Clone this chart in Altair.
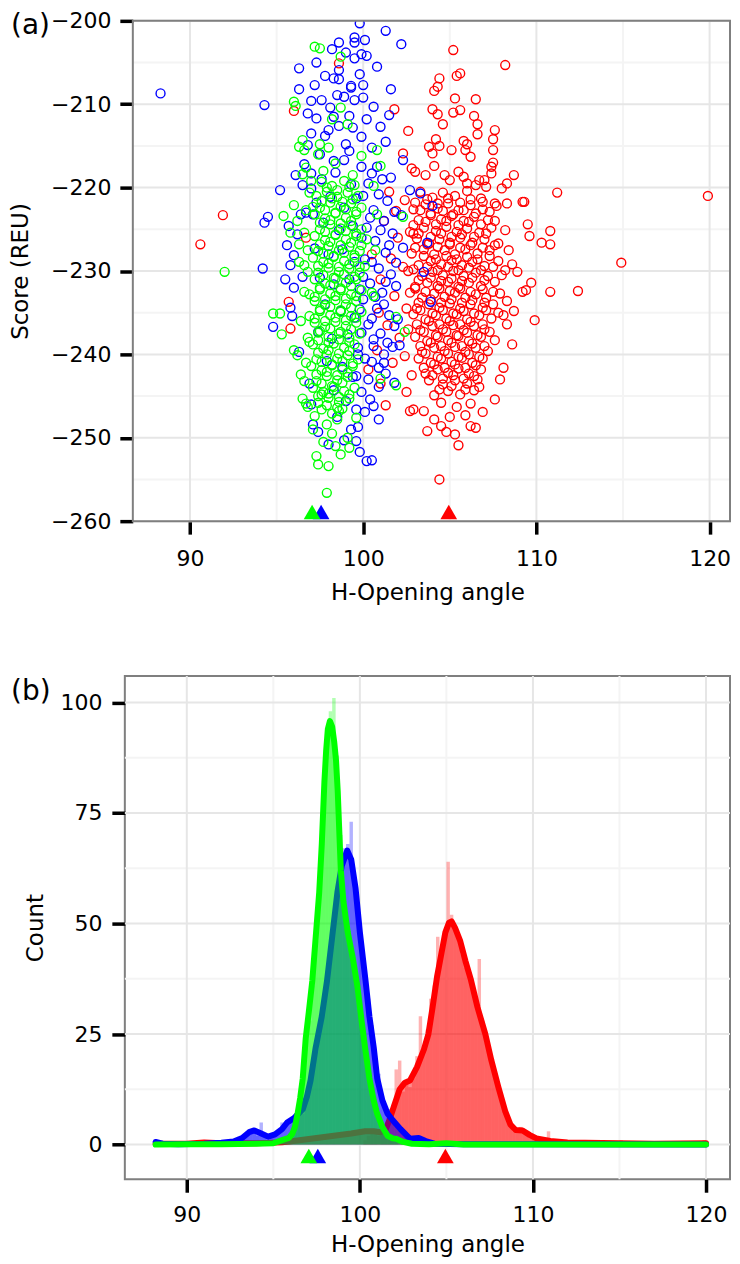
import altair as alt
import pandas as pd

FONT = "DejaVu Sans"
COLORS = {"red": "#FF0000", "blue": "#0000FF", "green": "#00FF00"}
ORDER = ["red", "blue", "green"]

# ---------------- panel (a): scatter points (x = H-opening angle, y = score) ----------------
red_pts = [
    (105.2, -203.5), (108.2, -205.3), (104.4, -206.9), (105.4, -206.6), (105.6, -206.3), (104.1, -208.4), (104.3, -207.9),
    (105.3, -209.3), (106.5, -209.4), (101.8, -210.6), (104.0, -210.6), (104.3, -211.2), (105.2, -211.0), (105.6, -210.7),
    (106.4, -211.4), (106.6, -212.4), (104.6, -212.4), (102.6, -213.2), (107.6, -213.1), (107.5, -214.2), (106.6, -213.6),
    (104.2, -214.2), (104.4, -215.0), (103.8, -215.1), (104.0, -215.9), (105.8, -214.4), (106.0, -214.8), (105.1, -215.5),
    (105.9, -215.5), (106.2, -216.3), (107.5, -215.5), (107.5, -217.0), (107.4, -217.5), (107.4, -218.3), (102.3, -215.9),
    (102.8, -217.7), (103.0, -218.1), (103.6, -218.5), (104.1, -217.4), (104.7, -218.5), (105.0, -219.1), (105.5, -218.1),
    (105.8, -218.7), (106.0, -219.5), (108.7, -218.5), (108.3, -219.5), (108.0, -220.1), (106.7, -219.1), (107.0, -219.1),
    (107.1, -219.9), (106.5, -219.7), (111.2, -220.6), (119.9, -221.0), (109.2, -221.7), (109.3, -221.7), (108.3, -221.9),
    (107.6, -221.9), (109.5, -224.4), (109.6, -225.8), (110.8, -225.2), (110.8, -226.8), (110.3, -226.6), (114.9, -229.0),
    (110.8, -232.5), (112.4, -232.4), (109.7, -231.4), (109.2, -232.5), (109.4, -232.3), (109.9, -235.9), (108.6, -238.8),
    (108.1, -241.6), (107.6, -245.4), (108.3, -236.4), (105.5, -250.9), (104.4, -255.0), (103.7, -249.2), (104.8, -249.3),
    (104.5, -248.6), (106.5, -248.8), (106.2, -248.6), (102.7, -246.8), (102.9, -246.6), (103.5, -246.8), (101.3, -246.1),
    (102.5, -244.5), (91.9, -223.3), (90.6, -226.8), (98.6, -205.1), (96.0, -210.8), (96.7, -226.0), (95.7, -233.7),
    (95.8, -236.9), (108.4, -227.5), (108.0, -230.5), (108.9, -230.1), (108.3, -233.6), (108.7, -234.8), (107.9, -243.0),
    (105.0, -247.5), (105.9, -247.3), (104.1, -247.8), (106.9, -246.9), (105.3, -249.6),
    (101.5, -220.5), (101.2, -224.0), (101.9, -222.8), (102.4, -221.5), (102.0, -226.0), (101.6, -228.5), (102.3, -229.5),
    (101.0, -231.0), (101.8, -233.0), (102.5, -234.5), (101.4, -236.5), (102.1, -238.0), (100.8, -239.5), (101.7, -241.0),
    (102.4, -240.2), (101.0, -243.5), (102.8, -242.5), (100.5, -228.0), (100.9, -235.0), (102.9, -225.5), (102.6, -237.0),
    (100.3, -241.8),
    (103.3, -220.5), (104.0, -221.2), (104.6, -220.6), (105.3, -221.0), (106.0, -220.4), (106.8, -221.3),
    (102.9, -222.6), (103.6, -222.0), (104.3, -222.5), (104.9, -221.9), (105.5, -222.7), (106.2, -222.1), (106.9, -222.6), (107.7, -222.2),
    (103.2, -223.9), (103.9, -223.3), (104.5, -223.8), (105.1, -223.4), (105.8, -224.0), (106.4, -223.5), (107.2, -223.9),
    (102.7, -225.3), (103.5, -224.8), (104.2, -225.2), (104.8, -224.7), (105.4, -225.3), (106.0, -224.9), (106.7, -225.4), (107.4, -224.8), (108.2, -225.1),
    (103.1, -226.1), (103.8, -226.7), (104.4, -226.2), (105.0, -226.6), (105.6, -226.0), (106.3, -226.6), (107.0, -226.2), (107.8, -226.7),
    (102.8, -227.9), (103.5, -227.4), (104.1, -228.0), (104.7, -227.5), (105.3, -228.0), (105.9, -227.4), (106.6, -227.9), (107.3, -227.5),
    (103.2, -229.3), (103.9, -228.8), (104.5, -229.2), (105.1, -228.7), (105.7, -229.3), (106.3, -228.9), (107.0, -229.4), (107.8, -228.8), (108.6, -229.2),
    (102.6, -230.0), (103.4, -230.6), (104.0, -230.1), (104.6, -230.5), (105.2, -230.0), (105.8, -230.6), (106.5, -230.2), (107.2, -230.6),
    (103.0, -231.9), (103.7, -231.4), (104.3, -231.8), (104.9, -231.3), (105.5, -231.9), (106.1, -231.4), (106.8, -231.8), (107.6, -231.3),
    (102.7, -232.6), (103.4, -233.2), (104.1, -232.7), (104.7, -233.1), (105.3, -232.6), (105.9, -233.2), (106.5, -232.8), (107.1, -233.2), (107.9, -232.7),
    (103.1, -234.5), (103.8, -234.0), (104.4, -234.4), (105.0, -233.9), (105.6, -234.5), (106.2, -234.0), (106.9, -234.4), (107.5, -234.0),
    (102.9, -235.2), (103.6, -235.8), (104.2, -235.3), (104.8, -235.7), (105.4, -235.2), (106.0, -235.8), (106.7, -235.3), (107.4, -235.7), (108.1, -235.3),
    (103.3, -237.1), (104.0, -236.6), (104.6, -237.0), (105.2, -236.5), (105.8, -237.1), (106.4, -236.6), (107.0, -237.0),
    (103.0, -237.9), (103.7, -238.4), (104.3, -237.9), (104.9, -238.3), (105.5, -237.8), (106.1, -238.4), (106.8, -237.9), (107.6, -238.3),
    (103.4, -239.7), (104.1, -239.2), (104.7, -239.6), (105.3, -239.1), (105.9, -239.7), (106.5, -239.2), (107.2, -239.6),
    (103.2, -240.5), (103.9, -241.0), (104.5, -240.5), (105.1, -240.9), (105.7, -240.4), (106.3, -241.0), (106.9, -240.5),
    (103.6, -242.3), (104.3, -241.8), (104.9, -242.2), (105.5, -241.7), (106.1, -242.3), (106.8, -241.8),
    (103.8, -243.1), (104.6, -243.6), (105.3, -243.1), (106.0, -243.5), (106.6, -243.0),
    (104.1, -244.9), (104.9, -244.4), (105.6, -244.8), (106.4, -244.3),
    (104.5, -245.8), (105.4, -246.3), (106.2, -245.9),
    (103.0, -221.8), (103.7, -221.4), (104.3, -221.9), (104.9, -221.3), (105.6, -221.8), (106.2, -221.4), (106.9, -221.7),
    (103.3, -222.7), (103.9, -223.1), (104.6, -222.8), (105.2, -223.2), (105.8, -222.7), (106.5, -223.1), (107.3, -222.9),
    (102.9, -224.5), (103.6, -224.1), (104.2, -224.4), (104.8, -224.0), (105.5, -224.5), (106.1, -224.1), (106.8, -224.4), (107.6, -224.0),
    (103.2, -225.5), (103.9, -225.9), (104.5, -225.5), (105.1, -225.9), (105.7, -225.6), (106.4, -225.9), (107.1, -225.5),
    (103.0, -227.2), (103.7, -226.8), (104.3, -227.1), (105.0, -226.8), (105.6, -227.2), (106.2, -226.9), (106.9, -227.2), (107.6, -226.9),
    (103.5, -228.2), (104.2, -228.6), (104.8, -228.2), (105.4, -228.6), (106.0, -228.3), (106.6, -228.6), (107.3, -228.2),
    (102.9, -229.8), (103.7, -229.5), (104.3, -229.9), (104.9, -229.5), (105.5, -229.9), (106.1, -229.6), (106.8, -229.9), (107.5, -229.5), (108.2, -229.9),
    (103.2, -231.1), (103.9, -230.8), (104.5, -231.2), (105.1, -230.9), (105.7, -231.2), (106.3, -230.8), (107.0, -231.1),
    (103.0, -232.1), (103.6, -232.5), (104.4, -232.1), (105.0, -232.4), (105.6, -232.1), (106.2, -232.5), (106.9, -232.2), (107.5, -232.5),
    (103.2, -233.8), (103.9, -233.4), (104.5, -233.8), (105.1, -233.4), (105.7, -233.8), (106.3, -233.5), (107.0, -233.8),
    (103.3, -234.7), (104.0, -235.1), (104.6, -234.7), (105.2, -235.1), (105.8, -234.8), (106.4, -235.1), (107.1, -234.7), (107.8, -235.0),
    (103.1, -236.4), (103.8, -236.0), (104.4, -236.4), (105.0, -236.0), (105.6, -236.4), (106.2, -236.1), (106.9, -236.4),
    (103.5, -237.3), (104.2, -237.7), (104.8, -237.3), (105.4, -237.7), (106.0, -237.4), (106.6, -237.7), (107.3, -237.3),
    (103.3, -239.0), (103.9, -238.6), (104.5, -239.0), (105.1, -238.6), (105.7, -239.0), (106.3, -238.7), (107.0, -239.0),
    (103.6, -239.9), (104.3, -240.3), (104.9, -239.9), (105.5, -240.3), (106.1, -240.0), (106.7, -240.3),
    (103.5, -241.6), (104.1, -241.2), (104.7, -241.6), (105.3, -241.2), (105.9, -241.6), (106.5, -241.3),
    (104.0, -242.5), (104.6, -242.9), (105.2, -242.5), (105.8, -242.9), (106.4, -242.6),
    (104.4, -244.2), (105.1, -243.8), (105.9, -244.2), (106.7, -243.9),
]

blue_pts = [
    (99.8, -200.3), (99.5, -202.0), (100.1, -202.3), (99.5, -202.6), (98.6, -202.6), (98.2, -203.4), (101.3, -201.2), (102.2, -202.8),
    (99.5, -204.5), (99.9, -204.0), (100.2, -204.2), (98.6, -205.9), (96.3, -205.7), (97.8, -206.6), (98.3, -206.9), (98.6, -207.0),
    (99.3, -207.8), (99.8, -206.4), (96.3, -208.2), (97.2, -207.7), (99.3, -208.0), (100.0, -207.7), (101.6, -208.2),
    (97.0, -209.6), (97.6, -209.5), (98.5, -208.9), (98.9, -209.1), (99.5, -209.5), (100.0, -209.2),
    (96.8, -211.1), (97.3, -211.7), (98.1, -210.4), (98.3, -211.5), (99.2, -211.4), (99.4, -212.8), (100.2, -211.8), (101.0, -212.7),
    (97.0, -213.5), (96.8, -214.9), (97.5, -216.0), (98.6, -212.6), (97.8, -213.8), (99.9, -213.9), (100.5, -215.2), (101.3, -214.5),
    (96.6, -217.2), (97.0, -218.3), (98.3, -216.8), (99.2, -215.6), (100.8, -217.5), (102.3, -216.7), (101.6, -218.8),
    (96.1, -218.5), (96.5, -219.7), (97.0, -220.1), (95.2, -220.3),
    (102.7, -220.3), (103.3, -220.7), (104.0, -222.2), (102.2, -223.3), (103.7, -226.6), (103.5, -230.1), (103.9, -233.7),
    (94.3, -210.1), (88.3, -208.7), (94.2, -229.7), (94.5, -223.5), (94.3, -224.2), (95.7, -224.6), (96.4, -223.2), (96.7, -223.0),
    (97.1, -223.2), (96.0, -228.1), (95.8, -229.3),
    (94.8, -236.7), (95.8, -234.4), (95.9, -235.4), (96.3, -239.7), (97.1, -248.4), (97.4, -249.3), (98.0, -250.8), (99.6, -246.6),
    (99.7, -248.7), (99.8, -251.7), (100.2, -252.8), (101.7, -239.1), (102.1, -238.9), (101.2, -240.0), (101.2, -241.0),
    (100.4, -245.4), (100.5, -252.7),
    (100.3, -219.5), (100.9, -220.8), (101.4, -221.6), (100.6, -222.7), (101.2, -224.0), (100.2, -224.8), (101.7, -225.5),
    (100.7, -226.4), (101.3, -227.8), (100.1, -228.6), (100.9, -229.7), (101.6, -230.4), (100.4, -231.5), (101.1, -232.6),
    (100.0, -233.4), (100.8, -234.5), (101.5, -235.3), (100.3, -236.4), (101.0, -237.5), (100.6, -239.0), (100.1, -240.5),
    (100.9, -241.6), (100.3, -243.0), (99.9, -244.5), (100.6, -246.2), (101.9, -231.8), (102.3, -227.2), (102.0, -235.8),
    (101.8, -243.4),
    (100.5, -218.3), (101.1, -219.0), (100.0, -221.0), (101.8, -222.9), (100.4, -223.6), (101.0, -225.1), (99.9, -226.0),
    (101.5, -226.9), (100.5, -228.9), (101.9, -229.0), (100.0, -230.7), (101.3, -231.3), (100.7, -233.1), (99.8, -234.6),
    (101.2, -234.0), (100.5, -235.7), (101.8, -236.6), (99.9, -237.4), (100.6, -238.2), (101.4, -238.6), (99.7, -240.0),
    (100.5, -240.9), (101.3, -242.3), (99.6, -242.6), (100.9, -243.9), (100.1, -246.9), (100.9, -247.8), (99.6, -250.4),
    (96.2, -225.6), (95.6, -226.9), (96.5, -230.7), (96.0, -232.0), (95.5, -231.0), (96.9, -243.5), (97.0, -246.0),
    (99.0, -214.8), (98.0, -213.1), (100.6, -210.3), (101.5, -211.3), (99.0, -203.8), (100.8, -205.5), (97.3, -205.0),
    (98.9, -216.7),
    (97.6, -219.0), (98.4, -218.2), (99.3, -219.6), (99.9, -217.5), (97.3, -221.8), (98.1, -221.1), (98.9, -222.4), (99.6, -221.3),
    (97.7, -224.2), (98.6, -225.1), (99.4, -224.6), (97.2, -227.3), (98.0, -228.0), (98.8, -227.4), (99.5, -228.9), (97.5, -230.8),
    (98.3, -231.6), (99.2, -231.0), (99.8, -232.2), (97.8, -234.0), (98.7, -234.8), (99.5, -235.6), (97.4, -237.3), (98.2, -238.1),
    (99.1, -237.6), (99.7, -239.2), (97.9, -240.8), (98.8, -241.5), (99.4, -242.7), (98.3, -244.3), (99.0, -245.6), (98.5, -247.5),
    (99.3, -249.0), (98.9, -250.3),
]

green_pts = [
    (97.2, -203.1), (97.5, -203.3), (98.7, -204.3), (96.0, -209.7), (96.1, -210.2), (98.7, -210.4), (98.2, -211.8), (99.1, -212.4),
    (96.5, -214.3), (96.3, -215.1), (96.6, -215.5), (97.5, -214.8), (97.4, -216.0), (98.0, -215.2), (96.7, -217.6), (96.5, -218.4),
    (97.0, -219.2), (97.7, -218.0), (98.4, -217.1), (99.4, -218.5), (99.9, -216.2), (100.8, -215.5), (101.0, -217.4), (100.6, -219.8),
    (96.0, -222.1), (95.4, -223.4), (96.7, -222.7), (97.1, -222.3), (95.8, -225.4), (96.6, -225.4), (96.3, -228.9), (96.6, -229.3),
    (96.8, -230.1), (92.0, -230.1), (94.8, -235.1), (95.2, -235.1), (95.3, -237.6), (96.2, -240.1), (96.0, -239.5), (96.4, -242.4),
    (96.6, -243.2), (96.5, -245.3), (96.7, -245.9), (96.8, -246.3), (97.2, -247.4), (97.1, -249.0), (97.3, -252.2), (97.4, -253.2),
    (98.0, -253.4), (97.9, -256.6), (98.4, -251.0), (99.1, -250.0), (99.2, -251.2), (97.7, -250.5), (98.2, -249.5), (98.7, -252.0),
    (100.8, -223.2), (102.3, -223.5), (100.7, -227.5), (100.5, -232.6), (101.9, -235.5), (102.4, -237.3), (101.0, -242.9),
    (101.9, -243.7), (100.1, -229.4), (100.6, -233.0), (96.6, -232.5), (96.4, -236.0), (96.9, -238.5), (96.7, -241.0), (96.3, -226.8),
    (96.8, -227.5), (96.9, -220.6), (96.2, -224.0), (97.6, -244.8), (98.6, -246.8), (99.6, -247.6),
    (97.6, -219.3), (98.2, -219.8), (98.9, -219.2), (99.5, -219.7),
    (97.3, -221.0), (97.9, -220.5), (98.5, -221.1), (99.1, -220.6), (99.7, -221.0),
    (97.5, -222.4), (98.1, -221.8), (98.7, -222.3), (99.3, -221.9), (99.9, -222.4),
    (97.2, -223.2), (97.8, -223.7), (98.4, -223.1), (99.0, -223.6), (99.6, -223.2),
    (97.5, -225.0), (98.1, -224.4), (98.7, -224.9), (99.3, -224.5), (99.9, -225.0),
    (97.2, -225.8), (97.8, -226.3), (98.4, -225.7), (99.0, -226.2), (99.6, -225.8), (100.2, -226.2),
    (97.4, -227.6), (98.0, -227.0), (98.6, -227.5), (99.2, -227.1), (99.8, -227.6),
    (97.1, -228.4), (97.7, -228.9), (98.3, -228.3), (98.9, -228.8), (99.5, -228.4),
    (97.4, -230.2), (98.0, -229.6), (98.6, -230.1), (99.2, -229.7), (99.8, -230.2),
    (97.2, -231.0), (97.8, -231.5), (98.4, -230.9), (99.0, -231.4), (99.6, -231.0),
    (96.9, -232.8), (97.5, -232.2), (98.1, -232.7), (98.7, -232.3), (99.3, -232.8), (99.9, -232.3),
    (97.2, -233.6), (97.8, -234.1), (98.4, -233.5), (99.0, -234.0), (99.6, -233.6),
    (96.9, -235.4), (97.5, -234.8), (98.1, -235.3), (98.7, -234.9), (99.3, -235.4), (99.9, -234.9),
    (97.2, -236.2), (97.8, -236.7), (98.4, -236.1), (99.0, -236.6), (99.6, -236.2),
    (96.8, -238.0), (97.4, -237.4), (98.0, -237.9), (98.6, -237.5), (99.2, -238.0), (99.8, -237.5),
    (97.1, -238.8), (97.7, -239.3), (98.3, -238.7), (98.9, -239.2), (99.5, -238.8),
    (97.3, -240.6), (97.9, -240.0), (98.5, -240.5), (99.1, -240.1), (99.7, -240.6),
    (97.0, -241.4), (97.6, -241.9), (98.2, -241.3), (98.8, -241.8), (99.4, -241.4),
    (97.3, -243.2), (97.9, -242.6), (98.5, -243.1), (99.1, -242.7),
    (97.1, -244.0), (97.7, -244.5), (98.3, -243.9), (98.9, -244.4), (99.5, -244.0),
    (97.4, -245.8), (98.0, -245.2), (98.6, -245.7), (99.2, -245.3),
    (97.6, -246.6), (98.2, -247.1), (98.8, -246.5),
    (97.9, -248.4), (98.5, -247.8),
    (97.9, -220.0), (98.5, -220.3), (99.2, -219.9),
    (97.6, -221.6), (98.2, -221.3), (98.8, -221.7), (99.4, -221.4),
    (97.8, -222.7), (98.4, -223.0), (99.0, -222.6), (99.6, -222.9),
    (97.5, -224.2), (98.1, -223.9), (98.7, -224.3), (99.3, -224.0),
    (97.8, -225.3), (98.4, -225.6), (99.0, -225.2), (99.6, -225.5),
    (97.5, -226.8), (98.1, -226.5), (98.7, -226.9), (99.3, -226.6), (99.9, -226.9),
    (97.7, -227.9), (98.3, -228.2), (98.9, -227.8), (99.5, -228.1),
    (97.4, -229.4), (98.0, -229.1), (98.6, -229.5), (99.2, -229.2), (99.8, -229.5),
    (97.7, -230.5), (98.3, -230.8), (98.9, -230.4), (99.5, -230.7),
    (97.5, -232.0), (98.1, -231.7), (98.7, -232.1), (99.3, -231.8),
    (97.2, -233.1), (97.8, -233.4), (98.4, -233.0), (99.0, -233.3), (99.6, -233.0),
    (97.5, -234.6), (98.1, -234.3), (98.7, -234.7), (99.3, -234.4),
    (97.2, -235.7), (97.8, -236.0), (98.4, -235.6), (99.0, -235.9), (99.6, -235.6),
    (97.5, -237.2), (98.1, -236.9), (98.7, -237.3), (99.3, -237.0),
    (97.4, -238.3), (98.0, -238.6), (98.6, -238.2), (99.2, -238.5),
    (97.4, -239.8), (98.0, -239.5), (98.6, -239.9), (99.2, -239.6),
    (97.6, -240.9), (98.2, -241.2), (98.8, -240.8), (99.4, -241.1),
    (97.3, -242.4), (97.9, -242.1), (98.5, -242.5), (99.1, -242.2),
    (97.6, -243.5), (98.2, -243.8), (98.8, -243.4),
    (97.4, -245.0), (98.0, -244.7), (98.6, -245.1), (99.2, -244.8),
    (97.9, -246.1), (98.5, -246.4),
]

# triangle markers (group centres) on both panels
marker_groups = ["red", "blue", "green"]
marker_x = [104.94, 97.57, 97.05]
marker_y_a = -258.9
marker_y_b = -2.6

# ---------------- panel (b): histogram counts (bin start, width 0.2) ----------------
BIN_W = 0.2
green_bin_start = [95.6, 95.8, 96.0, 96.2, 96.4, 96.6, 96.8, 97.0, 97.2, 97.4, 97.6, 97.8, 98.0, 98.2, 98.4, 98.6, 98.8,
                   99.0, 99.2, 99.4, 99.6, 99.8, 100.0, 100.2, 100.4, 100.6, 100.8, 101.0, 101.2, 101.4, 101.6, 101.8, 102.0]
green_bin_count = [1, 2, 3, 6, 10, 16, 22, 28, 36, 46, 58, 78, 92, 98, 101, 88, 70,
                   55, 48, 44, 38, 33, 27, 22, 17, 12, 8, 6, 4, 2, 2, 1, 1]
blue_bin_start = [92.6, 93.0, 93.2, 93.4, 93.6, 93.8, 94.0, 94.2, 94.4, 94.6, 94.8, 95.0, 95.2, 95.4, 95.6, 95.8, 96.0,
                  96.2, 96.4, 96.6, 96.8, 97.0, 97.2, 97.4, 97.6, 97.8, 98.0, 98.2, 98.4, 98.6, 98.8, 99.0, 99.2,
                  99.4, 99.6, 99.8, 100.0, 100.2, 100.4, 100.6, 100.8, 101.0, 101.2, 101.4, 101.6, 101.8, 102.0,
                  102.2, 102.4, 102.6, 102.8, 103.0, 103.2, 103.4, 103.6]
blue_bin_count = [1, 1, 2, 2, 3, 3, 2, 5, 2, 1, 2, 2, 3, 5, 4.5, 5, 6,
                  7, 8, 7, 10, 13, 17, 21, 27, 31, 36, 42, 50, 56, 61, 67, 68,
                  73, 60, 54, 46, 40, 33, 27, 20, 16, 11, 8, 8, 6, 5,
                  4, 3, 2, 1, 1, 2, 1, 1]
red_bin_start = [100.2, 100.4, 100.6, 100.8, 101.0, 101.2, 101.4, 101.6, 101.8, 102.0, 102.2, 102.4, 102.6, 102.8,
                 103.0, 103.2, 103.4, 103.6, 103.8, 104.0, 104.2, 104.4, 104.6, 104.8, 105.0, 105.2, 105.4, 105.6,
                 105.8, 106.0, 106.2, 106.4, 106.6, 106.8, 107.0, 107.2, 107.4, 107.6, 107.8, 108.0, 108.2, 108.4,
                 108.6, 108.8, 109.0, 109.2, 109.4, 109.6, 109.8, 110.0, 110.4, 110.8, 111.2, 112.4, 115.0, 119.8]
red_bin_count = [1, 2, 3, 3, 2, 3, 4, 6, 9, 17, 19, 12, 14, 13,
                 15, 20, 29, 22, 26, 33, 36, 47, 44, 47, 64, 52, 49, 47,
                 43, 40, 38, 35, 33, 42, 28, 23, 21, 17, 14, 11, 9, 6,
                 4, 3, 3, 4, 3, 2, 2, 1, 1, 3, 1, 1, 1, 1]

# ---------------- panel (b): density curves scaled to counts ----------------
green_dens_x = [88.2, 90.0, 92.0, 94.0, 95.0, 95.5, 95.9, 96.1, 96.25, 96.4, 96.55, 96.7, 96.87, 97.05, 97.25, 97.45,
                97.65, 97.8, 97.95, 98.05, 98.15, 98.27, 98.4, 98.52, 98.62, 98.72, 98.8, 98.9, 99.05, 99.3, 99.6,
                99.85, 100.1, 100.3, 100.55, 100.8, 101.0, 101.3, 101.6, 101.9, 102.1, 102.5, 103.0, 104.0, 105.0,
                106.0, 110.0, 120.0]
green_dens_y = [0.0, 0.1, 0.1, 0.2, 0.3, 1.0, 1.5, 2.5, 4.0, 7.0, 10.5, 15.0, 24.0, 30.0, 37.0, 47.0,
                57.0, 68.0, 82.0, 89.0, 94.0, 95.8, 94.5, 91.0, 87.0, 80.0, 72.0, 62.0, 55.0, 48.0, 42.0,
                36.0, 28.0, 22.0, 15.0, 10.0, 7.0, 4.0, 2.0, 1.4, 1.3, 0.6, 0.2, 0.1, 0.3,
                0.0, 0.0, 0.0]
blue_dens_x = [88.2, 88.6, 89.5, 91.0, 92.0, 92.7, 93.2, 93.6, 93.9, 94.3, 94.7, 95.1, 95.5, 95.8, 96.2, 96.7,
               96.95, 97.15, 97.45, 97.8, 98.1, 98.4, 98.7, 98.95, 99.27, 99.5, 99.75, 100.0, 100.33, 100.55,
               100.8, 101.0, 101.3, 101.6, 101.9, 102.35, 102.9, 103.4, 103.8, 104.3, 106.0, 110.0, 120.0]
blue_dens_y = [0.6, 0.2, 0.1, 0.2, 0.4, 0.7, 1.5, 2.8, 3.2, 2.5, 1.8, 2.3, 3.5, 5.0, 6.0, 8.0,
               11.0, 14.5, 22.0, 29.0, 37.0, 47.0, 57.0, 63.0, 66.5, 64.5, 58.0, 48.0, 37.0, 29.0,
               22.0, 15.0, 10.0, 7.0, 5.5, 3.5, 1.3, 1.5, 0.8, 0.2, 0.1, 0.05, 0.0]
red_dens_x = [88.2, 90.0, 91.0, 92.0, 94.0, 95.5, 96.5, 97.5, 98.5, 99.5, 100.3, 100.8, 101.2, 101.5, 101.7, 102.0,
              102.3, 102.6, 102.9, 103.3, 103.7, 103.96, 104.2, 104.46, 104.7, 104.94, 105.15, 105.3, 105.5, 105.8,
              106.1, 106.4, 106.8, 107.25, 107.6, 108.0, 108.4, 108.7, 109.0, 109.4, 109.8, 110.2, 111.0, 112.0,
              113.0, 115.0, 117.0, 120.0]
red_dens_y = [0.2, 0.2, 0.5, 0.3, 0.3, 0.5, 1.0, 1.5, 2.0, 2.5, 3.0, 3.0, 2.8, 3.5, 5.5, 9.0,
              12.5, 14.0, 14.5, 17.5, 21.5, 25.0, 31.0, 38.0, 43.0, 48.0, 50.2, 50.5, 49.0, 46.0,
              41.5, 37.5, 31.0, 25.0, 19.0, 13.0, 7.5, 4.5, 3.3, 3.2, 2.2, 1.4, 0.8, 0.5,
              0.4, 0.3, 0.2, 0.3]

# ---------------- axes / grids ----------------
a_x_major = [90, 100, 110, 120]
a_x_minor = [95, 105, 115]
a_y_major = [-260, -250, -240, -230, -220, -210, -200]
a_y_minor = [-255, -245, -235, -225, -215, -205]
b_x_major = [90, 100, 110, 120]
b_x_minor = [95, 105, 115]
b_y_major = [0, 25, 50, 75, 100]
b_y_minor = [12.5, 37.5, 62.5, 87.5]

MAJOR_GRID = "#e6e6e6"
MINOR_GRID = "#f4f4f4"
FRAME = "#7f7f7f"

# layout (pixels)
W = 606           # plot width of both panels
A_H = 501
B_H = 504
A_INSET = 8       # panel (a) frame starts 8px right of panel (b)'s


def pts_frame(pts, group):
    return pd.DataFrame({"x": [p[0] for p in pts], "y": [p[1] for p in pts], "group": group})


scatter_df = pd.concat([pts_frame(red_pts, "red"), pts_frame(blue_pts, "blue"), pts_frame(green_pts, "green")],
                       ignore_index=True)
color_scale = alt.Scale(domain=ORDER, range=[COLORS[g] for g in ORDER])


def grid_layers(xs_major, xs_minor, ys_major, ys_minor, ex, ey, x_left=None):
    layers = []
    for vals, col, ch in [(xs_minor, MINOR_GRID, "x"), (ys_minor, MINOR_GRID, "y"),
                          (xs_major, MAJOR_GRID, "x"), (ys_major, MAJOR_GRID, "y")]:
        df = pd.DataFrame({"v": vals})
        if ch == "x":
            enc = {"x": ex("v:Q")}
        else:
            enc = {"y": ey("v:Q")}
            if x_left is not None:
                enc["x"] = alt.value(x_left)
                enc["x2"] = alt.value(W)
        layers.append(alt.Chart(df).mark_rule(color=col, strokeWidth=2).encode(**enc))
    return layers


def label_layer(text, px, py):
    return alt.Chart(pd.DataFrame({"t": [text]})).mark_text(
        align="left", baseline="middle", font=FONT, fontSize=28, color="black"
    ).encode(text="t:N", x=alt.value(px), y=alt.value(py))


# ---------------- panel (a) ----------------
sxa = alt.Scale(domain=[86.239, 121.177], nice=False, zero=False)
sya = alt.Scale(domain=[-260, -200], nice=False, zero=False)
axa_x = alt.Axis(values=a_x_major, title="H-Opening angle", labelPadding=14, titlePadding=12)
axa_y = alt.Axis(values=a_y_major, title="Score (REU)", labelPadding=9, titlePadding=18, offset=-A_INSET)


def exa(f):
    return alt.X(f, scale=sxa, axis=axa_x)


def eya(f):
    return alt.Y(f, scale=sya, axis=axa_y)


points_a = alt.Chart(scatter_df).mark_point(filled=False, size=80, strokeWidth=1.4, opacity=1, clip=True).encode(
    x=exa("x:Q"), y=eya("y:Q"),
    color=alt.Color("group:N", scale=color_scale, legend=None),
)

marker_df_a = pd.DataFrame({"group": marker_groups, "x": marker_x, "y": [marker_y_a] * 3})
marks_a = alt.Chart(marker_df_a).mark_point(shape="triangle-up", filled=True, size=280, opacity=1).encode(
    x=exa("x:Q"), y=eya("y:Q"),
    color=alt.Color("group:N", scale=color_scale, legend=None),
)

frame_a = alt.Chart(pd.DataFrame({"t": ["frame"]})).mark_rect(
    fill="transparent", stroke=FRAME, strokeWidth=2
).encode(x=alt.value(A_INSET), x2=alt.value(W), y=alt.value(0), y2=alt.value(A_H))

panel_a = alt.layer(
    *grid_layers(a_x_major, a_x_minor, a_y_major, a_y_minor, exa, eya, x_left=A_INSET),
    points_a, marks_a, frame_a, label_layer("(a)", -114, 5),
).properties(width=W, height=A_H, view=alt.ViewBackground(stroke="transparent"))

# ---------------- panel (b) ----------------
sxb = alt.Scale(domain=[86.42, 121.386], nice=False, zero=False)
syb = alt.Scale(domain=[-7.84, 106.0], nice=False, zero=False)
axb_x = alt.Axis(values=b_x_major, title="H-Opening angle", labelPadding=12, titlePadding=8)
axb_y = alt.Axis(values=b_y_major, title="Count", labelPadding=10, titlePadding=12)


def exb(f):
    return alt.X(f, scale=sxb, axis=axb_x)


def eyb(f):
    return alt.Y(f, scale=syb, axis=axb_y)


hist_df = pd.concat([
    pd.DataFrame({"start": red_bin_start, "count": red_bin_count, "group": "red"}),
    pd.DataFrame({"start": blue_bin_start, "count": blue_bin_count, "group": "blue"}),
    pd.DataFrame({"start": green_bin_start, "count": green_bin_count, "group": "green"}),
], ignore_index=True)

hist = alt.Chart(hist_df).transform_calculate(end=f"datum.start + {BIN_W}").mark_bar(
    opacity=0.3).encode(
    x=exb("start:Q"),
    x2="end:Q",
    y=eyb("count:Q"),
    y2=alt.datum(0),
    color=alt.Color("group:N", scale=color_scale, legend=None),
)

dens = {"red": (red_dens_x, red_dens_y), "blue": (blue_dens_x, blue_dens_y), "green": (green_dens_x, green_dens_y)}
dens_layers = []
for g in ORDER:
    ddf = pd.DataFrame({"x": dens[g][0], "y": dens[g][1]})
    base = alt.Chart(ddf).encode(x=exb("x:Q"), y=eyb("y:Q"))
    dens_layers.append(base.mark_area(color=COLORS[g], opacity=0.45))
    dens_layers.append(base.mark_line(color=COLORS[g], strokeWidth=6, strokeCap="round", strokeJoin="round"))

marker_df_b = pd.DataFrame({"group": marker_groups, "x": marker_x, "y": [marker_y_b] * 3})
marks_b = alt.Chart(marker_df_b).mark_point(shape="triangle-up", filled=True, size=280, opacity=1).encode(
    x=exb("x:Q"), y=eyb("y:Q"),
    color=alt.Color("group:N", scale=color_scale, legend=None),
)

panel_b = alt.layer(
    *grid_layers(b_x_major, b_x_minor, b_y_major, b_y_minor, exb, eyb),
    hist, *dens_layers, marks_b, label_layer("(b)", -114, 16),
).properties(width=W, height=B_H, view=alt.ViewBackground(stroke=FRAME, strokeWidth=2))

chart = alt.vconcat(panel_a, panel_b, spacing=69,
                    padding={"left": 0, "top": 0, "right": 0, "bottom": 0}).configure(
    font=FONT
).configure_view(
    stroke=FRAME, strokeWidth=2
).configure_axis(
    grid=False, domain=False, ticks=True, tickColor="black", tickWidth=3.5, tickSize=13,
    labelFont=FONT, labelFontSize=22, labelColor="black",
    titleFont=FONT, titleFontSize=23, titleFontWeight="normal", titleColor="black",
)

chart.save("out.html", embed_options={"renderer": "svg", "actions": False})
